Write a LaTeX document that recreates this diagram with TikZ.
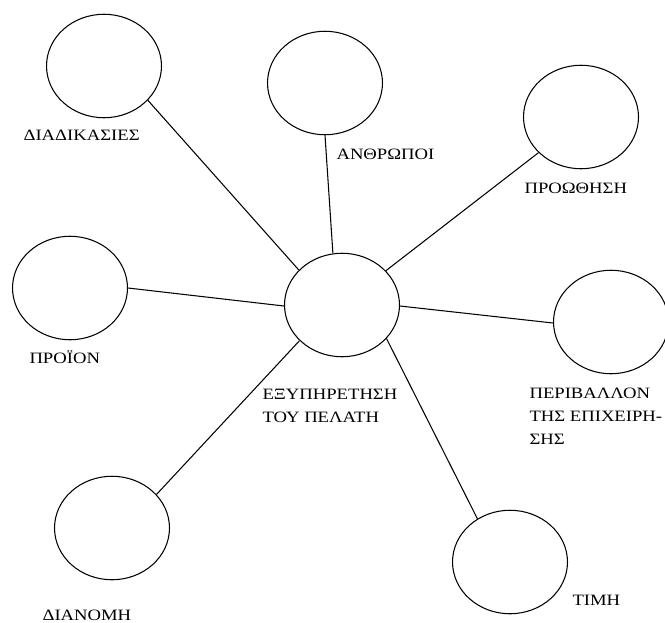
\documentclass[tikz,border=0pt]{standalone}
\usepackage{fontspec}
\setmainfont{Liberation Serif}[FakeStretch=1.18]
\usetikzlibrary{shapes.geometric, positioning}

\begin{document}
\begin{tikzpicture}[x=0.02cm, y=-0.02cm, line width=0.6pt,
	topic/.style={ellipse, draw, minimum width=2.3cm, minimum height=2.07cm, inner sep=0pt},
	tag/.style={anchor=base west, inner sep=0pt, align=left, font=\fontsize{9}{13}\selectfont}]
	
	\useasboundingbox (0,0) rectangle (665,622);
	
	% Centre
	\node[topic] (c) at (342,305) {};
	\node[tag] (cl) at (262,422) {ΕΞΥΠΗΡΕΤΗΣΗ\\ΤΟΥ ΠΕΛΑΤΗ};
	
	% Outer ellipses
	\node[topic] (d) at (104,66) {};
	\node[topic] (a) at (325,83) {};
	\node[topic] (p) at (581,117) {};
	\node[topic] (pr) at (70,288) {};
	\node[topic] (pe) at (611,322) {};
	\node[topic] (di) at (112,528) {};
	\node[topic] (t) at (510,562) {};
	
	% Labels
	\node[tag] (dl) at (23,140) {ΔΙΑΔΙΚΑΣΙΕΣ};
	\node[tag] (al) at (336,159) {ΑΝΘΡΩΠΟΙ};
	\node[tag] (pl) at (524,193) {ΠΡΟΩΘΗΣΗ};
	\node[tag] (prl) at (29,363) {ΠΡΟΪΟΝ};
	\node[tag] (pel) at (529,444) {ΠΕΡΙΒΑΛΛΟΝ\\ΤΗΣ ΕΠΙΧΕΙΡΗ-\\ΣΗΣ};
	\node[tag] (dil) at (42,620) {ΔΙΑΝΟΜΗ};
	\node[tag] (tl) at (572,605) {ΤΙΜΗ};
	
	% Spokes
	\draw (c.141) -- (d.322);
	\draw (c.100) -- (a.270);
	\draw (c.38) -- (p.220);
	\draw (c.181) -- (pr.0);
	\draw (c.359) -- (pe.181);
	\draw (c.220) -- (di.37);
	\draw (c.323) -- (t.127);
	
\end{tikzpicture}
\end{document}
